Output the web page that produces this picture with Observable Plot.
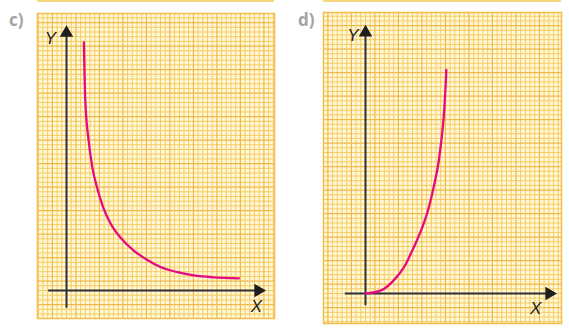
<!DOCTYPE html>
<html><head><meta charset="utf-8">
<script src="https://cdn.jsdelivr.net/npm/d3@7"></script>
<script src="https://cdn.jsdelivr.net/npm/@observablehq/plot@0.6"></script>
<style>
body{margin:0;background:#fff;}
#wrap{position:relative;width:569px;height:331px;overflow:hidden;font-family:"Open Sans",sans-serif;background:#fff;}
.panel{position:absolute;}
.panel svg{display:block;}
.lab{position:absolute;font-weight:700;font-size:17px;line-height:17px;color:#a3a3a3;}
.strip{position:absolute;top:0;height:2px;background:#f8d57f;}
</style></head><body>
<div id="wrap">
  <div class="strip" style="left:37px;width:237px"></div>
  <div class="strip" style="left:323px;width:238px"></div>
  <div class="lab" style="left:9px;top:11px">c)</div>
  <div class="lab" style="left:298px;top:11px">d)</div>
  <div class="panel" id="pc" style="left:37px;top:13px"></div>
  <div class="panel" id="pd" style="left:323px;top:12px"></div>
</div>
<script>
// Panel labels
const panelLabels = ["c)", "d)"];
const axisLabels = ["X", "Y"];

// Curve c (decreasing, hyperbola-like), in grid units
const curveCx = [3.7, 4.0, 4.7, 5.5, 6.5, 7.8, 9.4, 11.8, 14.3, 17.2, 20.0, 23.6, 27.1, 31.3, 36.7];
const curveCy = [52.8, 40.4, 32.0, 26.2, 21.9, 17.7, 14.2, 10.9, 8.5, 6.5, 5.0, 3.9, 3.2, 2.8, 2.6];

// Curve d (increasing, exponential-like), in grid units
const curveDx = [0, 3.2, 6.0, 8.2, 10.3, 12.1, 13.5, 14.5, 15.6, 16.3, 16.8, 17.1, 17.2];
const curveDy = [0, 0.6, 2.8, 5.6, 9.9, 14.1, 18.4, 22.6, 28.3, 34.0, 39.7, 45.3, 47.6];

// Axis extents [min, max] in grid units
const axisCx = [-3.8, 41.7], axisCy = [-3.8, 55.7];
const axisDx = [-4.3, 40.0], axisDy = [-2.6, 56.4];

// Axis label positions
const labelC = {X: [40.4, -3.5], Y: [-3.4, 53.6]};
const labelD = {X: [36.2, -3.3], Y: [-2.7, 54.8]};

const unit = 4.7;

function panel(el, w, h, ox, oy, cx, cy, ax, ay, lab) {
  const xd = [-ox / unit, (w - ox) / unit];
  const yd = [-(h - oy) / unit, oy / unit];
  const gx = d3.range(Math.ceil(xd[0]), xd[1]);
  const gy = d3.range(Math.ceil(yd[0]), yd[1]);
  const isMajor = v => ((v % 5) + 5) % 5 === 2;
  const pts = cx.map((x, i) => ({x, y: cy[i]}));
  const labels = axisLabels.map(t => ({t, x: lab[t][0], y: lab[t][1]}));
  const heads = [
    {x: ax[1] - 0.9, y: 0, r: 90},
    {x: 0, y: ay[1] - 0.9, r: 0}
  ];
  const plot = Plot.plot({
    width: w, height: h,
    margin: 0,
    x: {domain: xd, axis: null},
    y: {domain: yd, axis: null},
    style: {background: "#fff8d8", overflow: "visible"},
    marks: [
      Plot.ruleX(gx.filter(v => !isMajor(v)), {stroke: "#f7cb62", strokeWidth: 1}),
      Plot.ruleY(gy.filter(v => !isMajor(v)), {stroke: "#f7cb62", strokeWidth: 1}),
      Plot.ruleX(gx.filter(isMajor), {stroke: "#f1b84a", strokeWidth: 1.2}),
      Plot.ruleY(gy.filter(isMajor), {stroke: "#f1b84a", strokeWidth: 1.2}),
      Plot.frame({stroke: "#f3bd4c", strokeWidth: 1.5}),
      Plot.ruleY([0], {x1: ax[0], x2: ax[1] - 1.2, stroke: "#2e2e2e", strokeWidth: 2}),
      Plot.ruleX([0], {y1: ay[0], y2: ay[1] - 1.2, stroke: "#2e2e2e", strokeWidth: 2}),
      Plot.dot(heads, {x: "x", y: "y", rotate: "r", symbol: "triangle", r: 5, fill: "#1e1e1e", stroke: "none"}),
      Plot.line(pts, {x: "x", y: "y", curve: "monotone-x", stroke: "#e50a80", strokeWidth: 2.3}),
      Plot.text(labels, {x: "x", y: "y", text: "t", fontSize: 17, fontStyle: "italic", fill: "#222", fontFamily: "Liberation Sans, sans-serif"})
    ]
  });
  document.getElementById(el).appendChild(plot);
}

panel("pc", 237, 305, 29, 277, curveCx, curveCy, axisCx, axisCy, labelC);
panel("pd", 238, 311, 42, 281, curveDx, curveDy, axisDx, axisDy, labelD);
</script>
</body></html>
